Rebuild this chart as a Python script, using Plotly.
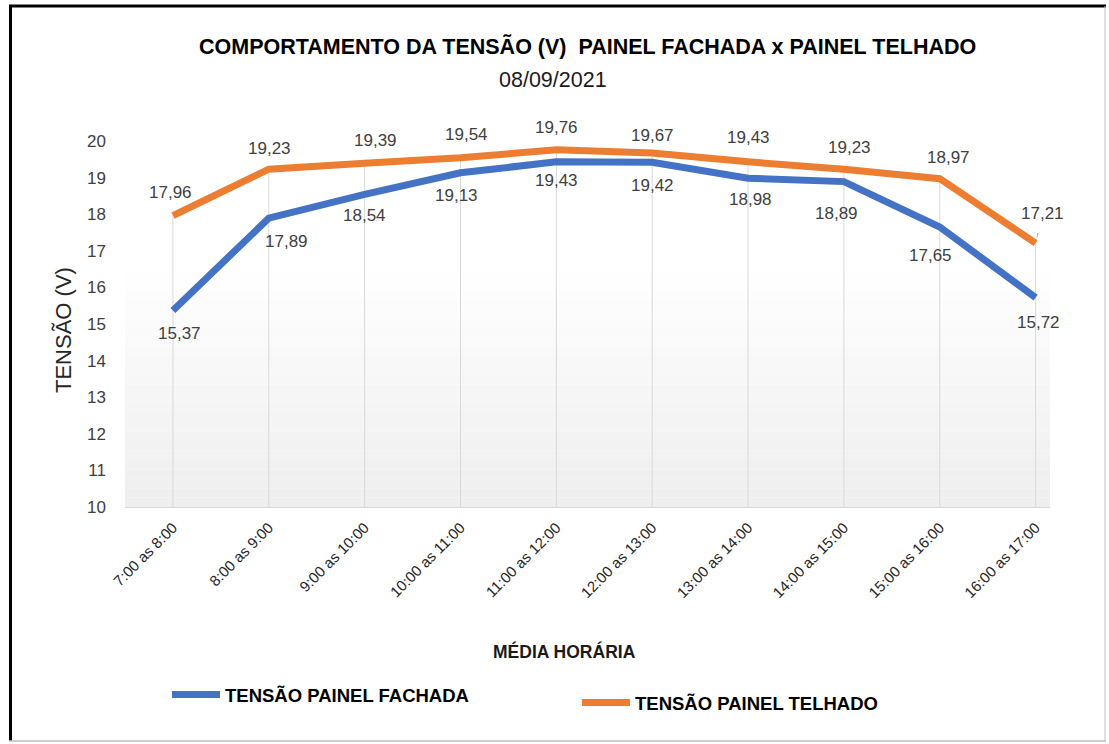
import plotly.graph_objects as go

categories = ["7:00 as 8:00", "8:00 as 9:00", "9:00 as 10:00", "10:00 as 11:00",
              "11:00 as 12:00", "12:00 as 13:00", "13:00 as 14:00", "14:00 as 15:00",
              "15:00 as 16:00", "16:00 as 17:00"]
fachada = [15.37, 17.89, 18.54, 19.13, 19.43, 19.42, 18.98, 18.89, 17.65, 15.72]
telhado = [17.96, 19.23, 19.39, 19.54, 19.76, 19.67, 19.43, 19.23, 18.97, 17.21]
y_ticks = list(range(10, 21))

# label offsets (px) - styling only
tel_dx = [-2, 1, 11, 6, 0, 0, 0, 6, 9, 7]
tel_dy = [23, 21, 23, 23, 22, 18, 24, 22, 21, 30]
fac_dx = [7, 18, 0, -4, 0, 0, 2, -7, -9, 3]
fac_dy = [-23, -23, -21, -23, -19, -23, -21, -32, -28, -25]

BLUE = "#4472C4"
ORANGE = "#ED7D31"
FONT = "Liberation Sans, Arial, sans-serif"

idx = list(range(len(categories)))
fig = go.Figure()

# drop lines from highest point to axis
dx, dy = [], []
for i in idx:
    dx += [i, i, None]
    dy += [max(fachada[i], telhado[i]), y_ticks[0], None]
fig.add_trace(go.Scatter(x=dx, y=dy, mode="lines", line=dict(color="#d9d9d9", width=1),
                         showlegend=False, hoverinfo="skip"))

fig.add_trace(go.Scatter(x=idx, y=fachada, mode="lines", name="TENSÃO PAINEL FACHADA",
                         line=dict(color=BLUE, width=7), legend="legend"))
fig.add_trace(go.Scatter(x=idx, y=telhado, mode="lines", name="TENSÃO PAINEL TELHADO",
                         line=dict(color=ORANGE, width=7), legend="legend2"))

ann = []
for i in idx:
    if i == len(idx) - 1:
        ann.append(dict(x=i, y=telhado[i], text=f"{telhado[i]:.2f}".replace(".", ","),
                        showarrow=True, arrowhead=0, arrowcolor="#a6a6a6", arrowwidth=1,
                        ax=tel_dx[i], ay=-tel_dy[i], standoff=6, startstandoff=9,
                        font=dict(family=FONT, size=17, color="#404040")))
    else:
        ann.append(dict(x=i, y=telhado[i], text=f"{telhado[i]:.2f}".replace(".", ","),
                        showarrow=False, xshift=tel_dx[i], yshift=tel_dy[i],
                        font=dict(family=FONT, size=17, color="#404040")))
    ann.append(dict(x=i, y=fachada[i], text=f"{fachada[i]:.2f}".replace(".", ","),
                    showarrow=False, xshift=fac_dx[i], yshift=fac_dy[i],
                    font=dict(family=FONT, size=17, color="#404040")))

W, H = 1109, 744
L, R, T, B = 125, 59, 130, 237
pw, ph = W - L - R, H - T - B


def px(xp):
    return (xp - L) / pw


def py(yp):
    return (H - B - yp) / ph


ann += [
    dict(xref="paper", yref="paper", x=px(587), y=py(47), showarrow=False,
         xanchor="center", yanchor="middle",
         text="<b>COMPORTAMENTO DA TENSÃO (V)  PAINEL FACHADA x PAINEL TELHADO</b>",
         font=dict(family=FONT, size=21.5, color="#000000")),
    dict(xref="paper", yref="paper", x=px(553), y=py(80), showarrow=False,
         xanchor="center", yanchor="middle",
         text="08/09/2021", font=dict(family=FONT, size=21.5, color="#1a1a1a")),
    dict(xref="paper", yref="paper", x=px(63), y=py(330), showarrow=False, textangle=-90,
         xanchor="center", yanchor="middle",
         text="TENSÃO (V)", font=dict(family=FONT, size=22, color="#262626")),
    dict(xref="paper", yref="paper", x=px(564), y=py(651), showarrow=False,
         xanchor="center", yanchor="middle",
         text="<b>MÉDIA HORÁRIA</b>", font=dict(family=FONT, size=17.5, color="#1a1a1a")),
]

shapes = []
# gradient plot background
n = 40
y0, y1 = 10, 20.3
for k in range(n):
    t = k / (n - 1)
    c = int(239 + (255 - 239) * min(1.0, t * 1.6))
    shapes.append(dict(type="rect", xref="paper", yref="y", x0=0, x1=1,
                       y0=y0 + (y1 - y0) * k / n, y1=y0 + (y1 - y0) * (k + 1) / n,
                       fillcolor=f"rgb({c},{c},{c})", line=dict(width=0), layer="below"))
# outer border
shapes += [
    dict(type="line", xref="paper", yref="paper", x0=px(10.5), x1=px(10.5), y0=py(5), y1=py(741),
         line=dict(color="#000000", width=3)),
    dict(type="line", xref="paper", yref="paper", x0=px(9), x1=px(1106), y0=py(6), y1=py(6),
         line=dict(color="#000000", width=3)),
    dict(type="line", xref="paper", yref="paper", x0=px(1105), x1=px(1105), y0=py(6), y1=py(741),
         line=dict(color="#bfbfbf", width=1)),
    dict(type="line", xref="paper", yref="paper", x0=px(9), x1=px(1106), y0=py(741), y1=py(741),
         line=dict(color="#bfbfbf", width=1.5)),
]

fig.update_layout(
    width=W, height=H,
    margin=dict(l=L, r=R, t=T, b=B, autoexpand=False),
    paper_bgcolor="white", plot_bgcolor="rgba(0,0,0,0)",
    font=dict(family=FONT, color="#404040"),
    annotations=ann, shapes=shapes,
    legend=dict(x=px(167), y=py(695), xanchor="left", yanchor="middle", itemwidth=48,
                font=dict(family=FONT, size=18.5, color="#000000", weight="bold"),
                bgcolor="rgba(0,0,0,0)"),
    legend2=dict(x=px(577), y=py(703), xanchor="left", yanchor="middle", itemwidth=48,
                 font=dict(family=FONT, size=18.5, color="#000000", weight="bold"),
                 bgcolor="rgba(0,0,0,0)"),
    xaxis=dict(range=[-0.5, 9.15], tickmode="array", tickvals=idx, ticktext=categories,
               tickangle=-45, tickfont=dict(family=FONT, size=15, color="#262626"),
               showgrid=False, zeroline=False, showline=True, linecolor="#d9d9d9", linewidth=1,
               ticks="", ticklabelstandoff=5, automargin=False),
    yaxis=dict(range=[10, 20.3], tickmode="array", tickvals=y_ticks,
               tickfont=dict(family=FONT, size=17, color="#404040"),
               showgrid=False, zeroline=False, showline=False, ticks="",
               ticklabelstandoff=18, automargin=False),
)

fig.write_html("out.html", config={"displayModeBar": False},
               post_script="document.body.style.margin='0';document.body.style.overflow='hidden';")
